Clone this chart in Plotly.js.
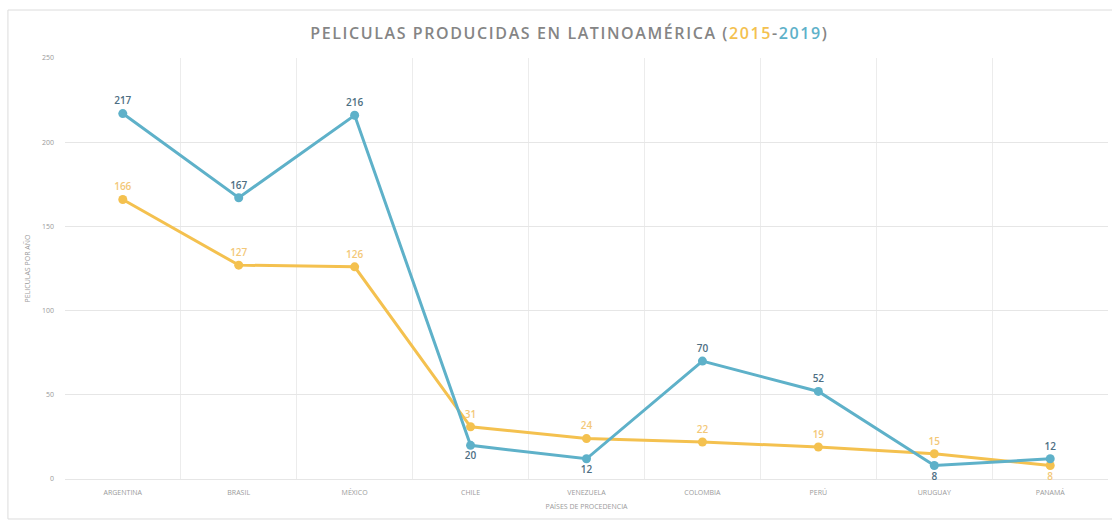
<!DOCTYPE html>
<html>
<head>
<meta charset="utf-8">
<script src="https://cdn.plot.ly/plotly-3.0.1.min.js"></script>
<style>
html,body{margin:0;padding:0;background:#fff;}
#chart{width:1112px;height:523px;}
</style>
</head>
<body>
<div id="chart"></div>
<script>
const paises = ["ARGENTINA","BRASIL","MÉXICO","CHILE","VENEZUELA","COLOMBIA","PERÚ","URUGUAY","PANAMÁ"];
const serie2019 = [217,167,216,20,12,70,52,8,12];
const serie2015 = [166,127,126,31,24,22,19,15,8];
const pos2019 = ["top center","top center","top center","bottom center","bottom center","top center","top center","bottom center","top center"];
const pos2015 = ["top center","top center","top center","top center","top center","top center","top center","top center","bottom center"];
const yTicks = [0,50,100,150,200,250];

const azul = "#5eb1c9";
const naranja = "#f4c14f";

const traces = [
  {
    x: paises, y: serie2015, name: "2015", type: "scatter", mode: "lines+markers+text",
    text: serie2015.map(String), textposition: pos2015,
    textfont: {family: "Open Sans, Arial, sans-serif", size: 10, color: "#f3c878", weight: 600},
    line: {color: naranja, width: 3},
    marker: {color: naranja, size: 9},
    cliponaxis: false
  },
  {
    x: paises, y: serie2019, name: "2019", type: "scatter", mode: "lines+markers+text",
    text: serie2019.map(String), textposition: pos2019,
    textfont: {family: "Open Sans, Arial, sans-serif", size: 10, color: "#4d6e82", weight: 600},
    line: {color: azul, width: 3},
    marker: {color: azul, size: 9},
    cliponaxis: false
  }
];

const layout = {
  width: 1112, height: 523,
  margin: {l: 65, r: 4, t: 58, b: 44},
  paper_bgcolor: "#ffffff", plot_bgcolor: "#ffffff",
  showlegend: false,
  font: {family: "Open Sans, Arial, sans-serif", color: "#9a9a9a"},
  title: {
    text: "<span style='letter-spacing:1.6px'>PELICULAS PRODUCIDAS EN LATINOAMÉRICA (<span style='color:#f4c14f'>2015</span>-<span style='color:#5eb1c9'>2019</span>)</span>",
    font: {family: "Open Sans, Arial, sans-serif", size: 16, color: "#858585", weight: 600},
    x: 0.512, xanchor: "center", y: 0.937, yanchor: "middle"
  },
  xaxis: {
    type: "category",
    tickson: "boundaries",
    showgrid: true, gridcolor: "#ececec", gridwidth: 1,
    ticks: "", showline: false, zeroline: false,
    tickfont: {size: 7, color: "#9a9a9a"},
    ticklabelstandoff: 8,
    title: {text: "PAÍSES DE PROCEDENCIA", font: {size: 7, color: "#9a9a9a"}, standoff: 8}
  },
  yaxis: {
    range: [0, 250],
    tickvals: yTicks,
    showgrid: true, gridcolor: "#e6e6e6", gridwidth: 1,
    zeroline: true, zerolinecolor: "#e6e6e6",
    ticks: "", showline: false,
    tickfont: {size: 7, color: "#9a9a9a"},
    ticklabelstandoff: 10,
    title: {text: "PELICULAS POR AÑO", font: {size: 7, color: "#9a9a9a"}, standoff: 10}
  },
  shapes: [
    {type: "rect", xref: "paper", yref: "paper",
     x0: -0.0547, x1: 1.01, y0: -0.095, y1: 1.114,
     line: {color: "#dcdcdc", width: 1}, fillcolor: "rgba(0,0,0,0)", layer: "below"}
  ]
};

Plotly.newPlot("chart", traces, layout, {displayModeBar: false, staticPlot: true});
</script>
</body>
</html>
